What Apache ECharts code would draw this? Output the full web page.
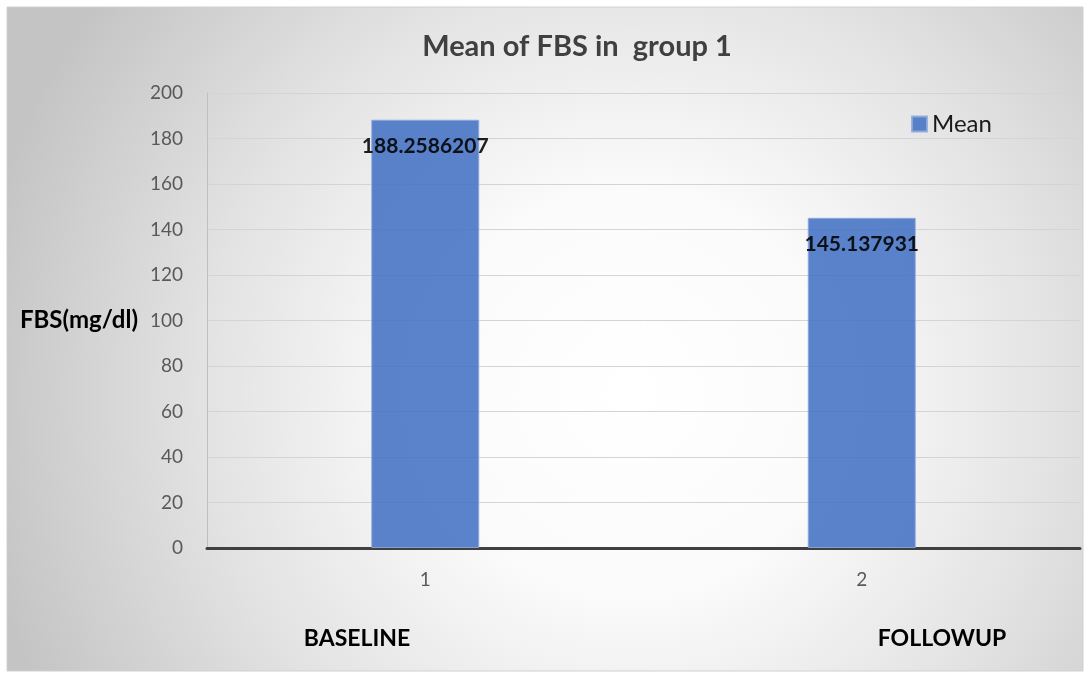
<!DOCTYPE html>
<html>
<head>
<meta charset="utf-8">
<script src="https://cdn.jsdelivr.net/npm/echarts@6/dist/echarts.min.js"></script>
<style>
  html, body { margin: 0; padding: 0; background: #ffffff; }
  #chart { width: 1087px; height: 675px; }
</style>
</head>
<body>
<div id="chart"></div>
<script>
// Mean fasting blood sugar, group 1
const categories = ['1', '2'];
const meanValues = [188.2586207, 145.137931];
const groupNames = ['BASELINE', 'FOLLOWUP'];
const yTicks = { min: 0, max: 200, interval: 20 };

const FONT = 'Lato';
const chart = echarts.init(document.getElementById('chart'), null, { renderer: 'canvas' });

const option = {
  animation: false,
  textStyle: { fontFamily: FONT },
  graphic: [
    {
      // chart-area panel with a soft radial shade
      type: 'rect',
      z: -10,
      silent: true,
      shape: { x: 7, y: 7, width: 1076, height: 664 },
      style: {
        fill: {
          type: 'radial', x: 0.58, y: 0.58, r: 1.0,
          colorStops: [
            { offset: 0, color: '#ffffff' },
            { offset: 0.3, color: '#fbfbfb' },
            { offset: 0.65, color: '#e2e2e2' },
            { offset: 1, color: '#c4c4c4' }
          ]
        },
        stroke: '#d0d0d0',
        lineWidth: 1
      }
    },
    {
      type: 'text', x: 357, y: 639,
      style: { text: groupNames[0], font: 'bold 23px ' + FONT, fill: '#000000', align: 'center', verticalAlign: 'middle' }
    },
    {
      type: 'text', x: 942, y: 639,
      style: { text: groupNames[1], font: 'bold 23px ' + FONT, fill: '#000000', align: 'center', verticalAlign: 'middle' }
    }
  ],
  title: {
    text: 'Mean of FBS in  group 1',
    left: 572,
    top: 27,
    textAlign: 'center',
    textStyle: { fontFamily: FONT, fontWeight: 'bold', fontSize: 29, color: '#404040' }
  },
  legend: {
    data: ['Mean'],
    left: 906,
    top: 107,
    icon: 'rect',
    itemWidth: 15,
    itemHeight: 15,
    itemGap: 6,
    textStyle: { fontFamily: FONT, fontSize: 24, color: '#1a1a1a' }
  },
  grid: { left: 207, right: 7, top: 93, bottom: 127 },
  xAxis: {
    type: 'category',
    data: categories,
    axisLine: { lineStyle: { color: '#404040', width: 3 } },
    axisTick: { show: false },
    axisLabel: { color: '#595959', fontSize: 19, margin: 22, fontFamily: FONT }
  },
  yAxis: {
    type: 'value',
    min: yTicks.min,
    max: yTicks.max,
    interval: yTicks.interval,
    name: 'FBS(mg/dl)',
    nameLocation: 'middle',
    nameRotate: 0,
    nameGap: 69,
    nameTextStyle: { fontFamily: FONT, fontWeight: 'bold', fontSize: 24, color: '#000000', align: 'right', verticalAlign: 'middle', padding: [28, 0, 0, 0] },
    axisLine: { show: true, lineStyle: { color: '#bfbfbf', width: 1 } },
    axisTick: { show: false },
    axisLabel: { color: '#595959', fontSize: 19, margin: 24, fontFamily: FONT },
    splitLine: { lineStyle: { color: '#d4d4d4', width: 1 } }
  },
  series: [
    {
      name: 'Mean',
      type: 'bar',
      data: meanValues,
      barWidth: 108,
      itemStyle: { color: '#4472c4', opacity: 0.88, borderColor: '#8eaadb', borderWidth: 1 },
      label: {
        show: true,
        position: 'insideTop',
        distance: 16,
        fontFamily: FONT,
        fontWeight: 'bold',
        fontSize: 21,
        color: '#000000'
      }
    }
  ]
};

chart.setOption(option);
</script>
</body>
</html>
